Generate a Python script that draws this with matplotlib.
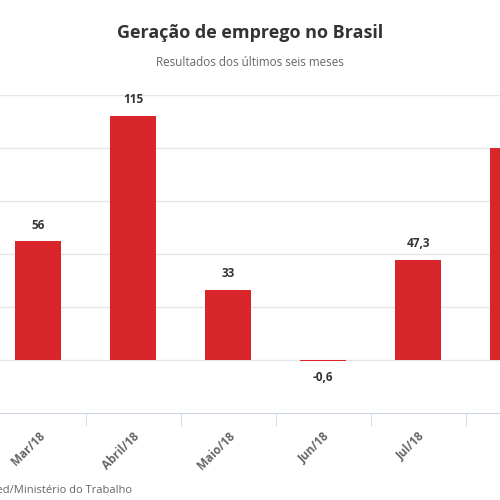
import matplotlib
matplotlib.use("Agg")
import matplotlib.pyplot as plt

categories = ["Mar/18", "Abril/18", "Maio/18", "Jun/18", "Jul/18", "Ago/18"]
values = [56, 115, 33, -0.6, 47.3, 100]
labels = ["56", "115", "33", "-0,6", "47,3", "100"]

plt.rcParams['font.family'] = ['Open Sans', 'DejaVu Sans']
fig = plt.figure(figsize=(5, 5), dpi=100)
ax = fig.add_axes([0, 0.174, 1, 0.636])
x = list(range(len(categories)))
ax.bar(x, values, width=0.48, color="#d9262a", zorder=3)
ax.set_yticks([0, 25, 50, 75, 100, 125])
ax.yaxis.grid(True, color="#e6e6e6", lw=1, zorder=0)
ax.tick_params(axis='y', left=False, labelleft=False)
ax.set_xticks(x)
ax.set_xticklabels(categories, rotation=45, ha='right', rotation_mode='anchor',
                   fontsize=8.5, fontweight='bold', color='#666666')
ax.set_xticks([i + 0.5 for i in range(-1, len(categories))], minor=True)
ax.tick_params(axis='x', which='major', length=0, pad=12)
ax.tick_params(axis='x', which='minor', length=9, color='#ccd6eb')
ax.set_xlim(-0.4, 4.863)
ax.set_ylim(-25, 125)
for s in ['top', 'right', 'left']:
    ax.spines[s].set_visible(False)
ax.spines['bottom'].set_color('#ccd6eb')
for xi, v, l in zip(x, values, labels):
    if v >= 0:
        ax.annotate(l, (xi, v), xytext=(0, 7), textcoords='offset points',
                    ha='center', va='bottom', fontsize=8.5, fontweight='bold', color='#333333')
    else:
        ax.annotate(l, (xi, v), xytext=(0, -7), textcoords='offset points',
                    ha='center', va='top', fontsize=8.5, fontweight='bold', color='#333333')
fig.text(0.5, 0.934, "Geração de emprego no Brasil", ha='center', va='center',
         fontsize=13, fontweight='bold', color='#333333')
fig.text(0.5, 0.876, "Resultados dos últimos seis meses", ha='center', va='center',
         fontsize=8.4, color='#666666')
fig.text(0.264, 0.02, "Fonte: Caged/Ministério do Trabalho", ha='right', va='center',
         fontsize=8, color='#666666')
fig.savefig("out.png", dpi=100)
